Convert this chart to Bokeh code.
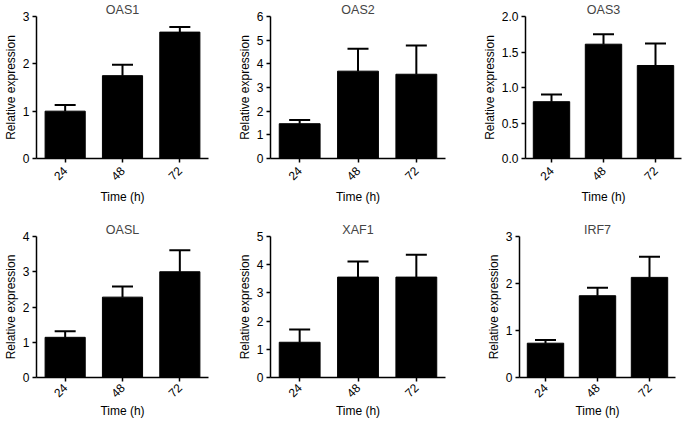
from bokeh.plotting import figure
from bokeh.layouts import column, row
from bokeh.models import Range1d, FactorRange, Whisker, TeeHead, ColumnDataSource, SingleIntervalTicker, NumeralTickFormatter
from bokeh.embed import file_html
from bokeh.resources import INLINE

times = ["24", "48", "72"]

oas1_mean = [1.00, 1.75, 2.67]
oas1_err = [0.13, 0.23, 0.11]
oas2_mean = [1.47, 3.69, 3.56]
oas2_err = [0.16, 0.95, 1.21]
oas3_mean = [0.80, 1.61, 1.31]
oas3_err = [0.10, 0.14, 0.31]
oasl_mean = [1.14, 2.28, 3.00]
oasl_err = [0.17, 0.30, 0.61]
xaf1_mean = [1.25, 3.56, 3.56]
xaf1_err = [0.45, 0.55, 0.79]
irf7_mean = [0.73, 1.74, 2.13]
irf7_err = [0.07, 0.17, 0.44]

titles = ["OAS1", "OAS2", "OAS3", "OASL", "XAF1", "IRF7"]
ymax = [3, 6, 2.0, 4, 5, 3]
ystep = [1, 1, 0.5, 1, 1, 1]
yfmt = ["0", "0", "0.0", "0", "0", "0"]

FONT = "Liberation Sans"

# layout geometry (per column / per row)
frame_w = [172, 175, 156]
col_left = [26, 30, 40]
col_right = [26, 34, 10]
row_top = [10, 18]
row_bottom = [60, 38]
frame_h = [142, 141]
lab_standoff = [6, 4]
axlab_standoff = [3, 0]


def panel(i, means, errs):
    c = i % 3
    r = i // 3
    src = ColumnDataSource(dict(t=times, m=means,
                                u=[a + b for a, b in zip(means, errs)]))
    p = figure(x_range=FactorRange(*times, range_padding=0),
               y_range=Range1d(0, ymax[i]),
               frame_width=frame_w[c], frame_height=frame_h[r],
               min_border_left=col_left[c], min_border_right=col_right[c],
               min_border_top=row_top[r], min_border_bottom=row_bottom[r],
               output_backend="svg", toolbar_location=None,
               title=titles[i])
    p.title.text_font = FONT
    p.title.text_font_size = "12.5px"
    p.title.text_font_style = "normal"
    p.title.align = "center"
    p.title.standoff = 0
    p.title.offset = 0
    p.outline_line_color = None
    p.xgrid.grid_line_color = None
    p.ygrid.grid_line_color = None
    p.background_fill_color = "white"
    p.border_fill_color = "white"

    p.vbar(x="t", top="m", bottom=0, width=0.7, source=src,
           fill_color="black", line_color="black", line_width=1)
    w = Whisker(base="t", lower="m", upper="u", source=src,
                line_color="black", line_width=2,
                upper_head=TeeHead(size=21, line_color="black", line_width=2),
                lower_head=None, level="underlay")
    p.add_layout(w)

    for ax in (p.xaxis[0], p.yaxis[0]):
        ax.axis_line_color = "black"
        ax.axis_line_width = 1.5
        ax.major_tick_line_color = "black"
        ax.major_tick_line_width = 1.5
        ax.major_tick_in = 0
        ax.major_tick_out = 4
        ax.minor_tick_line_color = None
        ax.major_label_text_font = FONT
        ax.major_label_text_font_size = "12px"
        ax.major_label_text_color = "black"
        ax.axis_label_text_font = FONT
        ax.axis_label_text_font_size = "12px"
        ax.axis_label_text_font_style = "normal"
        ax.axis_label_text_color = "black"
    p.yaxis.ticker = SingleIntervalTicker(interval=ystep[i])
    p.yaxis.formatter = NumeralTickFormatter(format=yfmt[i])
    p.yaxis.axis_label = "Relative expression"
    p.yaxis.axis_label_standoff = 2
    p.yaxis.major_label_standoff = 3
    p.xaxis.axis_label = "Time (h)"
    p.xaxis.axis_label_standoff = axlab_standoff[r]
    p.xaxis.major_label_orientation = 0.785
    p.xaxis.major_label_standoff = lab_standoff[r]
    return p


means = [oas1_mean, oas2_mean, oas3_mean, oasl_mean, xaf1_mean, irf7_mean]
errs = [oas1_err, oas2_err, oas3_err, oasl_err, xaf1_err, irf7_err]
plots = [panel(i, means[i], errs[i]) for i in range(6)]

layout = column(row(*plots[:3], spacing=0), row(*plots[3:], spacing=0), spacing=0)
open("out.html", "w").write(file_html(layout, INLINE))
